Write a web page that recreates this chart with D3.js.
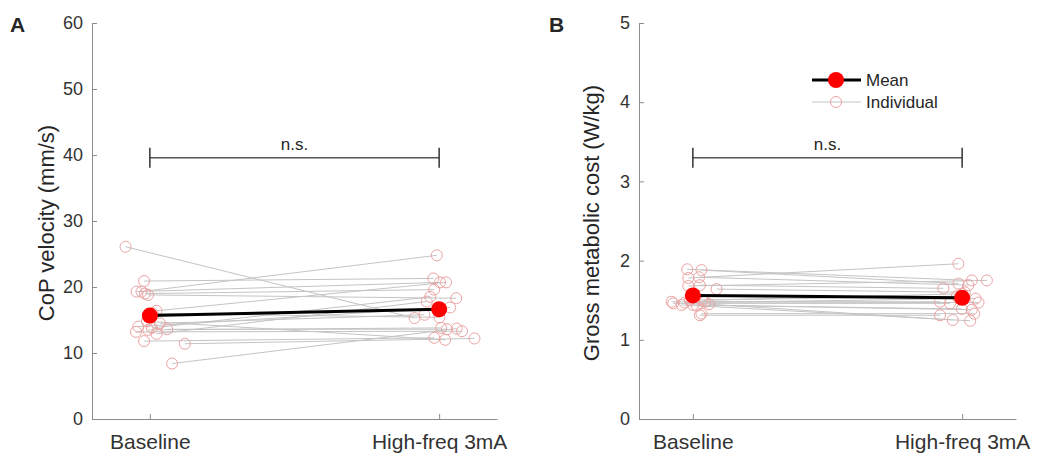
<!DOCTYPE html>
<html>
<head>
<script src="https://d3js.org/d3.v7.min.js"></script>
<style>
  body { margin: 0; background: #fff; }
  text { font-family: "Liberation Sans", Arial, sans-serif; fill: #262626; }
</style>
</head>
<body>
<div id="vis"></div>
<script>
// conditions on the x axis
const conditions = ["Baseline", "High-freq 3mA"];

// panel A: CoP velocity (mm/s), one value per subject
const copBase = [26.1, 20.9, 19.3, 19.3, 19.0, 18.8, 16.4, 14.0, 13.2, 13.5, 12.9, 13.6, 11.8, 11.4, 8.4, 14.5, 13.8, 16.0, 14.8];
const copHigh = [15.3, 21.3, 20.7, 24.8, 19.6, 18.3, 20.7, 16.9, 13.3, 13.8, 17.8, 13.6, 12.3, 12.2, 13.7, 15.8, 18.5, 15.4, 12.0];
// horizontal jitter of each point (x units)
const copBaseJit = [-0.084, -0.020, -0.046, -0.029, -0.017, -0.006, 0.023, -0.040, -0.048, -0.006, 0.023, 0.060, -0.020, 0.121, 0.077, 0.035, 0.007, 0.010, -0.010];
const copHighJit = [-0.085, -0.020, 0.003, -0.008, -0.017, 0.059, 0.024, 0.038, 0.079, 0.007, -0.043, 0.027, -0.017, 0.122, 0.061, -0.051, -0.031, 0.001, 0.021];

// panel B: gross metabolic cost (W/kg)
const metBase = [1.89, 1.88, 1.78, 1.79, 1.68, 1.69, 1.64, 1.48, 1.48, 1.46, 1.44, 1.44, 1.33, 1.31, 1.50, 1.45, 1.47, 1.43, 1.50];
const metHigh = [1.75, 1.71, 1.96, 1.69, 1.75, 1.65, 1.60, 1.47, 1.48, 1.46, 1.39, 1.38, 1.33, 1.31, 1.55, 1.25, 1.52, 1.24, 1.58];
const metBaseJit = [-0.021, 0.032, -0.017, 0.023, -0.017, 0.026, 0.088, 0.045, -0.079, -0.073, -0.042, 0.001, 0.032, 0.026, -0.011, 0.060, -0.030, 0.015, 0.035];
const metHighJit = [0.036, -0.014, -0.014, 0.023, 0.092, -0.070, 0.010, 0.061, -0.082, -0.045, -0.001, 0.036, 0.045, -0.082, -0.020, -0.035, 0.050, 0.030, 0.000];

const copTicks = [0, 10, 20, 30, 40, 50, 60];
const metTicks = [0, 1, 2, 3, 4, 5];

const W = 1038, H = 455;
const svg = d3.select("#vis").append("svg")
  .attr("width", W).attr("height", H);

function panel(opt) {
  const x = d3.scaleLinear().domain([0.8, 2.2]).range(opt.xr);
  const y = d3.scaleLinear().domain(opt.ydom).range([419, 23]);
  const g = svg.append("g");

  // y axis
  const ya = g.append("g")
    .attr("transform", `translate(${opt.xr[0]},0)`)
    .call(d3.axisLeft(y).tickValues(opt.ticks).tickFormat(d3.format("d"))
      .tickSizeInner(-5).tickSizeOuter(0).tickPadding(9));
  ya.select(".domain").attr("stroke", "#8c8c8c");
  ya.selectAll(".tick line").attr("stroke", "#8c8c8c");
  ya.selectAll("text").style("font-size", "18px").style("fill", "#333").attr("font-family", null);

  // x axis
  const xa = g.append("g")
    .attr("transform", "translate(0,419)")
    .call(d3.axisBottom(x).tickValues([1, 2]).tickFormat((d, i) => conditions[i])
      .tickSizeInner(-5).tickSizeOuter(0).tickPadding(15));
  xa.select(".domain").attr("stroke", "#8c8c8c");
  xa.selectAll(".tick line").attr("stroke", "#8c8c8c");
  xa.selectAll("text").style("font-size", "21px").style("fill", "#333").attr("font-family", null);

  // y label
  g.append("text")
    .attr("transform", `translate(${opt.labelX},${y((opt.ydom[0] + opt.ydom[1]) / 2) + 2}) rotate(-90)`)
    .attr("text-anchor", "middle")
    .style("font-size", "22px")
    .text(opt.label);

  // panel letter
  g.append("text")
    .attr("x", opt.letterX).attr("y", 32)
    .style("font-size", "21px").style("font-weight", "bold")
    .text(opt.letter);

  // bracket with n.s.
  const by = y(opt.bracket);
  g.append("line").attr("x1", x(1)).attr("x2", x(2)).attr("y1", by).attr("y2", by)
    .attr("stroke", "#555").attr("stroke-width", 1.5);
  [1, 2].forEach(c => {
    g.append("line").attr("x1", x(c)).attr("x2", x(c)).attr("y1", by - 10).attr("y2", by + 10)
      .attr("stroke", "#333").attr("stroke-width", 1.5);
  });
  g.append("text")
    .attr("x", (x(1) + x(2)) / 2).attr("y", by - 8)
    .attr("text-anchor", "middle")
    .style("font-size", "17px")
    .text("n.s.");

  const subj = opt.base.map((b, i) => ({
    x1: x(1 + opt.baseJit[i]), y1: y(b),
    x2: x(2 + opt.highJit[i]), y2: y(opt.high[i])
  }));

  // individual lines
  g.selectAll(".ind").data(subj).enter().append("line")
    .attr("x1", d => d.x1).attr("y1", d => d.y1)
    .attr("x2", d => d.x2).attr("y2", d => d.y2)
    .attr("stroke", "#c4c4c4").attr("stroke-width", 1);

  // individual markers
  const pts = subj.flatMap(d => [[d.x1, d.y1], [d.x2, d.y2]]);
  g.selectAll(".pt").data(pts).enter().append("circle")
    .attr("cx", d => d[0]).attr("cy", d => d[1]).attr("r", 5.5)
    .attr("fill", "none").attr("stroke", "#eba3a3").attr("stroke-width", 1);

  // mean
  const m1 = d3.mean(opt.base), m2 = d3.mean(opt.high);
  g.append("line")
    .attr("x1", x(1)).attr("y1", y(m1)).attr("x2", x(2)).attr("y2", y(m2))
    .attr("stroke", "#000").attr("stroke-width", 3);
  g.selectAll(".mean").data([[1, m1], [2, m2]]).enter().append("circle")
    .attr("cx", d => x(d[0])).attr("cy", d => y(d[1])).attr("r", 8)
    .attr("fill", "#ff0000");
}

panel({
  xr: [92, 497], ydom: [0, 60], ticks: copTicks,
  base: copBase, high: copHigh, baseJit: copBaseJit, highJit: copHighJit,
  label: "CoP velocity (mm/s)", labelX: 54, letter: "A", letterX: 10, bracket: 39.6
});
panel({
  xr: [639, 1016], ydom: [0, 5], ticks: metTicks,
  base: metBase, high: metHigh, baseJit: metBaseJit, highJit: metHighJit,
  label: "Gross metabolic cost (W/kg)", labelX: 599, letter: "B", letterX: 549, bracket: 3.3
});

// legend
const lg = svg.append("g");
lg.append("line").attr("x1", 812).attr("x2", 861).attr("y1", 80).attr("y2", 80)
  .attr("stroke", "#000").attr("stroke-width", 3);
lg.append("circle").attr("cx", 836).attr("cy", 80).attr("r", 8).attr("fill", "#ff0000");
lg.append("text").attr("x", 866).attr("y", 86).style("font-size", "17px").text("Mean");
lg.append("line").attr("x1", 812).attr("x2", 861).attr("y1", 102).attr("y2", 102)
  .attr("stroke", "#c4c4c4").attr("stroke-width", 1);
lg.append("circle").attr("cx", 836).attr("cy", 102).attr("r", 5.5)
  .attr("fill", "none").attr("stroke", "#eba3a3");
lg.append("text").attr("x", 866).attr("y", 108).style("font-size", "17px").text("Individual");
</script>
</body>
</html>
